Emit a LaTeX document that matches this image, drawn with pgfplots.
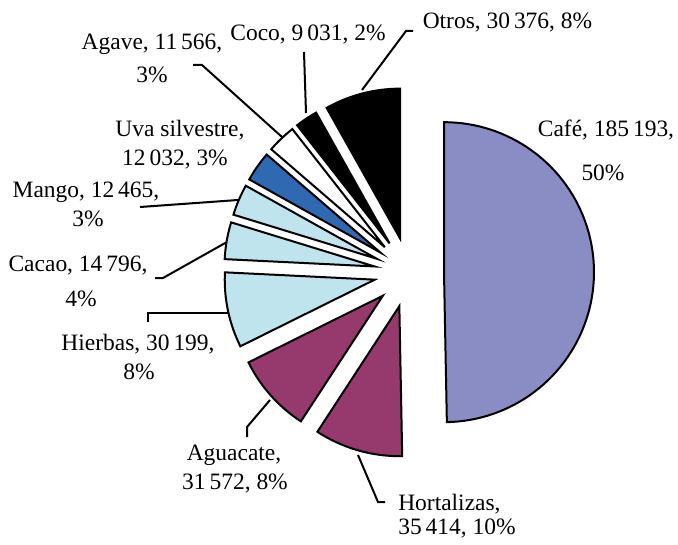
\documentclass[border=0pt]{standalone}
\usepackage{pgfplots}
\pgfplotsset{compat=1.18}
\usepackage{pgfplotstable}
\usepackage{fontspec}
\setmainfont{Liberation Serif}
\definecolor{cafe}{RGB}{138,140,196}
\definecolor{purp}{RGB}{150,58,110}
\definecolor{lblue}{RGB}{192,228,238}
\definecolor{dblue}{RGB}{46,105,178}
\pgfplotstableread{
name value col
Cafe 185193 cafe
Hortalizas 35414 purp
Aguacate 31572 purp
Hierbas 30199 lblue
Cacao 14796 lblue
Mango 12465 lblue
Uva 12032 dblue
Agave 11566 white
Coco 9031 black
Otros 30376 black
}\piedata
\newcommand{\fs}{\fontsize{17.6}{21}\selectfont}
\begin{document}
\begin{tikzpicture}
\begin{axis}[scale only axis, width=508.5pt, height=408pt,
  xmin=0, xmax=678, ymin=0, ymax=544, hide axis, clip=false]
\path (axis cs:0,0) rectangle (axis cs:678,544);
\def\R{150}\def\D{35}\def\pcx{409}\def\pcy{271.5}
\gdef\tot{0}
\pgfplotsforeachungrouped \i in {0,...,9}{%
  \pgfplotstablegetelem{\i}{value}\of\piedata
  \xdef\tot{\fpeval{\tot+\pgfplotsretval}}%
}
\gdef\angA{90}
\pgfplotsforeachungrouped \i in {0,...,9}{%
  \pgfplotstablegetelem{\i}{value}\of\piedata
  \edef\slval{\pgfplotsretval}%
  \pgfplotstablegetelem{\i}{col}\of\piedata
  \edef\slcol{\pgfplotsretval}%
  \edef\angB{\fpeval{round(\angA-360*\slval/\tot,4)}}%
  \edef\angM{\fpeval{(\angA+\angB)/2}}%
  \edef\apx{\fpeval{round(\pcx+\D*cosd(\angM),4)}}%
  \edef\apy{\fpeval{round(\pcy+\D*sind(\angM),4)}}%
  \edef\temp{\noexpand\addplot[draw=black, line width=1.5pt, fill=\slcol, domain=\angB:\angA, samples=80, variable=\noexpand\t] ({\apx+\R*cos(\noexpand\t)},{\apy+\R*sin(\noexpand\t)}) -- (axis cs:\apx,\apy) -- cycle;}%
  \temp
  \xdef\angA{\angB}%
}
% leader lines
\draw[line width=1.5pt] (axis cs:193,479) -- (axis cs:202,479) -- (axis cs:282,407);
\draw[line width=1.5pt] (axis cs:304,492) -- (axis cs:306,431);
\draw[line width=1.5pt] (axis cs:413,513) -- (axis cs:406,513) -- (axis cs:362,454);
\draw[line width=1.5pt] (axis cs:140,337) -- (axis cs:238,344);
\draw[line width=1.5pt] (axis cs:155,266) -- (axis cs:163,266) -- (axis cs:227,302);
\draw[line width=1.5pt] (axis cs:148,222) -- (axis cs:148,231) -- (axis cs:228,231);
\draw[line width=1.5pt] (axis cs:247,107) -- (axis cs:247,117) -- (axis cs:270,144);
\draw[line width=1.5pt] (axis cs:385,42) -- (axis cs:378,42) -- (axis cs:358,89);
% labels
\node[anchor=base, font=\fs, inner sep=0pt] at (axis cs:606,408) {Café, 185\,193,};
\node[anchor=base, font=\fs, inner sep=0pt] at (axis cs:603,363.3) {50\%};
\node[anchor=base west, font=\fs, inner sep=0pt] at (axis cs:398,33.3) {Hortalizas,};
\node[anchor=base west, font=\fs, inner sep=0pt] at (axis cs:398,9.3) {35\,414, 10\%};
\node[anchor=base, font=\fs, inner sep=0pt] at (axis cs:234,84) {Aguacate,};
\node[anchor=base, font=\fs, inner sep=0pt] at (axis cs:235,54.7) {31\,572, 8\%};
\node[anchor=base, font=\fs, inner sep=0pt] at (axis cs:138,194) {Hierbas, 30\,199,};
\node[anchor=base, font=\fs, inner sep=0pt] at (axis cs:139,164.7) {8\%};
\node[anchor=base, font=\fs, inner sep=0pt] at (axis cs:78,272.3) {Cacao, 14\,796,};
\node[anchor=base, font=\fs, inner sep=0pt] at (axis cs:81,237.3) {4\%};
\node[anchor=base, font=\fs, inner sep=0pt] at (axis cs:86,346.5) {Mango, 12\,465,};
\node[anchor=base, font=\fs, inner sep=0pt] at (axis cs:88,317.3) {3\%};
\node[anchor=base, font=\fs, inner sep=0pt] at (axis cs:180,408) {Uva silvestre,};
\node[anchor=base, font=\fs, inner sep=0pt] at (axis cs:175,379) {12\,032, 3\%};
\node[anchor=base, font=\fs, inner sep=0pt] at (axis cs:152,494) {Agave, 11\,566,};
\node[anchor=base, font=\fs, inner sep=0pt] at (axis cs:152,461.3) {3\%};
\node[anchor=base, font=\fs, inner sep=0pt] at (axis cs:308,503.3) {Coco, 9\,031, 2\%};
\node[anchor=base, font=\fs, inner sep=0pt] at (axis cs:507.5,515.7) {Otros, 30\,376, 8\%};
\end{axis}
\end{tikzpicture}
\end{document}
